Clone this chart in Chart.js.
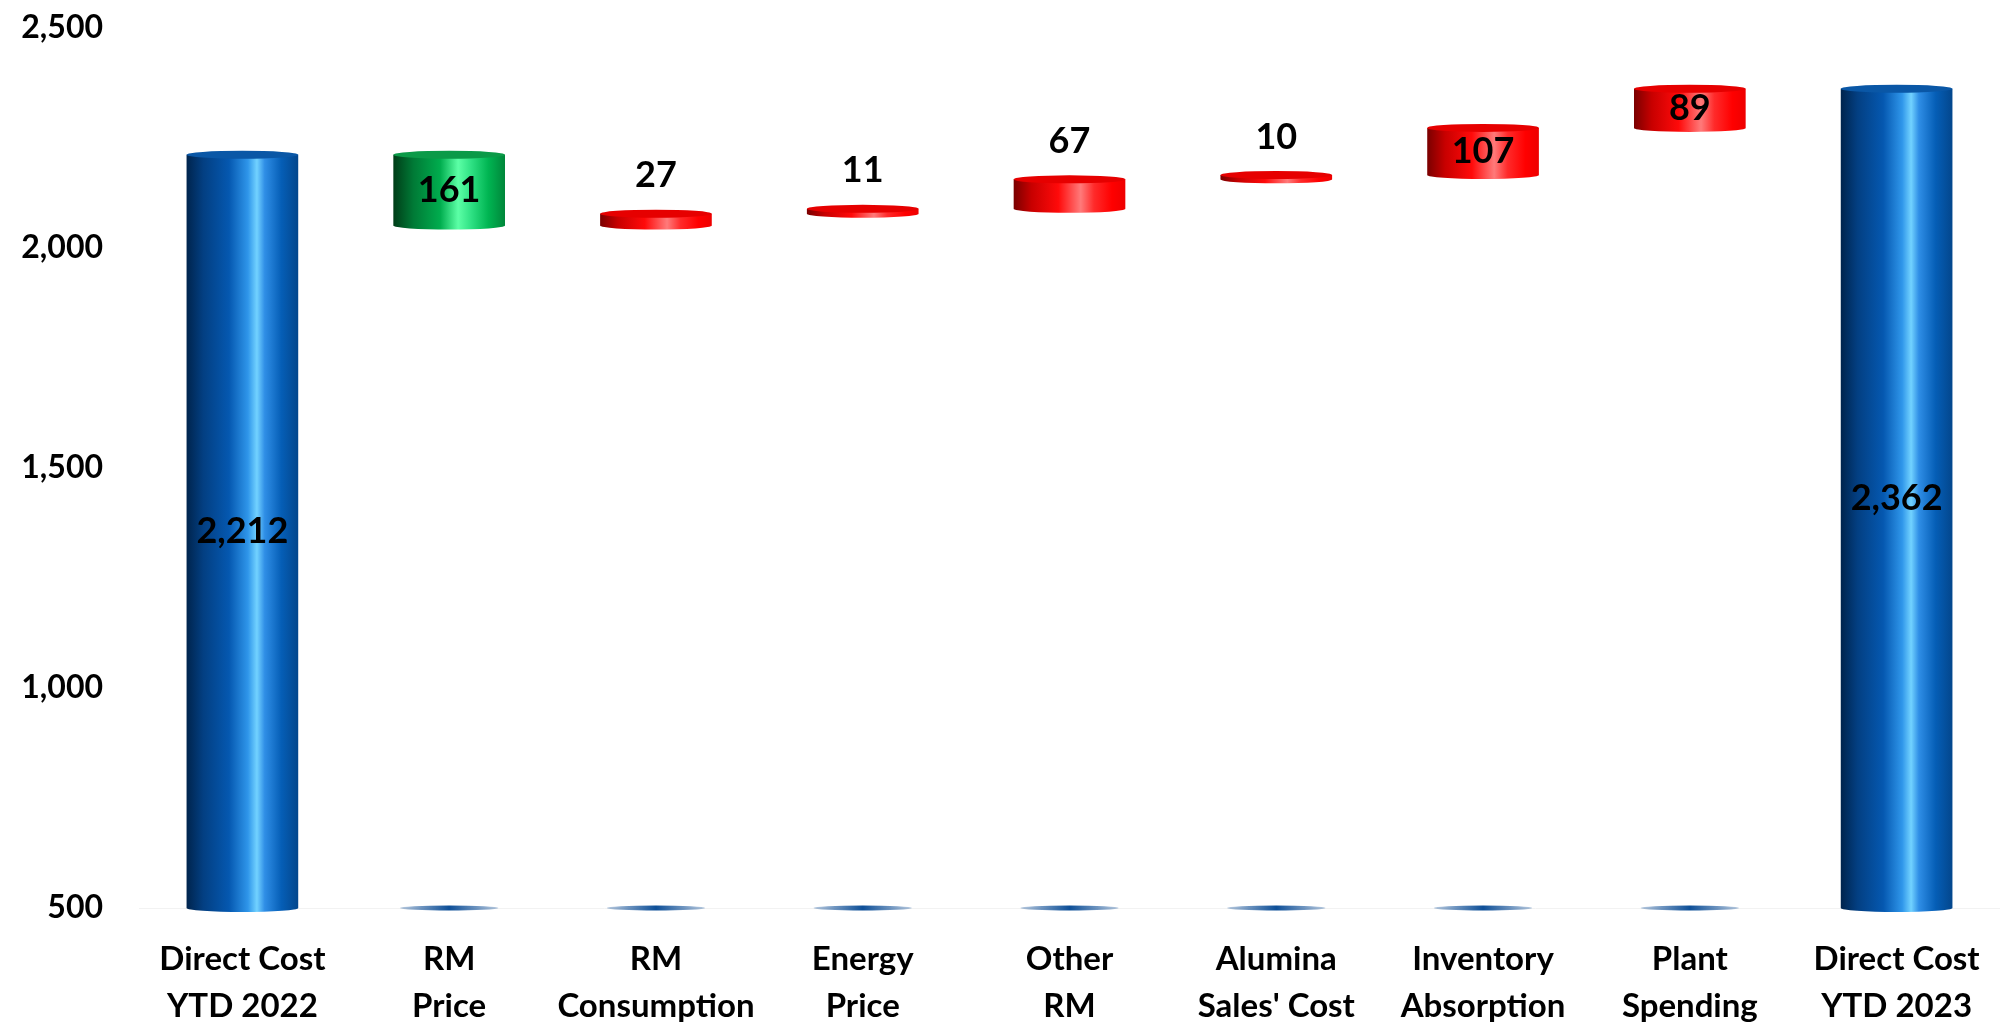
<!DOCTYPE html>
<html>
<head>
<meta charset="utf-8">
<script src="https://cdn.jsdelivr.net/npm/chart.js@4"></script>
<style>
  html, body { margin: 0; padding: 0; background: #ffffff; }
  #wrap { width: 2000px; height: 1023px; }
</style>
</head>
<body>
<div id="wrap"><canvas id="bridge" width="2000" height="1023"></canvas></div>
<script>
// Direct cost bridge, YTD 2022 -> YTD 2023
const categories = [
    ['Direct Cost', 'YTD 2022'],
    ['RM', 'Price'],
    ['RM', 'Consumption'],
    ['Energy', 'Price'],
    ['Other', 'RM'],
    ['Alumina', "Sales' Cost"],
    ['Inventory', 'Absorption'],
    ['Plant', 'Spending'],
    ['Direct Cost', 'YTD 2023']
];
const startTotal = 2212;
const endTotal = 2362;
const changes = [-161, 27, 11, 67, 10, 107, 89];
const axisMin = 500;
const axisMax = 2500;
const axisStep = 500;

const FONT = 'Lato, "Noto Sans", sans-serif';

// Build floating [low, high] ranges for the waterfall
const ranges = [];
const kinds = [];
const labels = [];
ranges.push([axisMin, startTotal]);
kinds.push('total');
labels.push(startTotal.toLocaleString('en-US'));
let running = startTotal;
changes.forEach(c => {
    const next = running + c;
    ranges.push([Math.min(running, next), Math.max(running, next)]);
    kinds.push(c < 0 ? 'down' : 'up');
    labels.push(Math.abs(c).toString());
    running = next;
});
ranges.push([axisMin, endTotal]);
kinds.push('total');
labels.push(endTotal.toLocaleString('en-US'));

const palettes = {
    total: {
        stops: [[0, '#00244d'], [0.15, '#033f82'], [0.38, '#0558b0'], [0.55, '#2f96ea'], [0.63, '#72d2ff'], [0.7, '#2f8ee6'], [0.85, '#055eb6'], [1, '#03468c']],
        cap: '#0a57a6'
    },
    down: {
        stops: [[0, '#003d18'], [0.18, '#007a36'], [0.42, '#00ad4e'], [0.58, '#5cffa6'], [0.7, '#2ee083'], [0.85, '#00b552'], [1, '#00863a']],
        cap: '#0b9a48'
    },
    up: {
        stops: [[0, '#7a0000'], [0.16, '#c80000'], [0.4, '#ff0a0a'], [0.6, '#ff7a7a'], [0.72, '#ff2a2a'], [0.88, '#ff0000'], [1, '#ee0000']],
        cap: '#e60000'
    }
};

// Paints each bar as a shaded cylinder plus its value label
const cylinderPlugin = {
    id: 'cylinders',
    afterDatasetsDraw(chart) {
        const ctx = chart.ctx;
        const meta = chart.getDatasetMeta(0);
        const yScale = chart.scales.y;
        const baseY = yScale.getPixelForValue(axisMin);
        meta.data.forEach((bar, i) => {
            const kind = kinds[i];
            const pal = palettes[kind];
            const w = bar.width;
            const left = bar.x - w / 2;
            const right = bar.x + w / 2;
            const top = Math.min(bar.y, bar.base);
            const bottom = Math.max(bar.y, bar.base);
            const ry = 4;

            ctx.save();
            // floor disc of the hidden base series
            if (kind !== 'total') {
                const g0 = ctx.createLinearGradient(left, 0, right, 0);
                g0.addColorStop(0, 'rgba(20,80,150,0.2)');
                g0.addColorStop(0.5, '#0d4f98');
                g0.addColorStop(1, 'rgba(20,80,150,0.2)');
                ctx.fillStyle = g0;
                ctx.beginPath();
                ctx.ellipse(bar.x, baseY, w * 0.44, 2.5, 0, 0, Math.PI * 2);
                ctx.fill();
            }

            const grad = ctx.createLinearGradient(left, 0, right, 0);
            pal.stops.forEach(s => grad.addColorStop(s[0], s[1]));
            ctx.fillStyle = grad;
            ctx.beginPath();
            ctx.moveTo(left, top);
            ctx.lineTo(left, bottom);
            ctx.ellipse(bar.x, bottom, w / 2, ry, 0, Math.PI, 0, true);
            ctx.lineTo(right, top);
            ctx.closePath();
            ctx.fill();

            // top cap
            ctx.fillStyle = pal.cap;
            ctx.beginPath();
            ctx.ellipse(bar.x, top, w / 2, ry, 0, 0, Math.PI * 2);
            ctx.fill();
            ctx.restore();

            // value label: inside the bar, or above it when the bar is thin
            ctx.save();
            ctx.font = 'bold 36px ' + FONT;
            ctx.fillStyle = '#000000';
            ctx.textAlign = 'center';
            ctx.textBaseline = 'middle';
            const h = bottom - top;
            const ly = h < 35 ? top - 38 : (top + bottom) / 2;
            ctx.fillText(labels[i], bar.x, ly);
            ctx.restore();
        });
    }
};

// Two-line category names under each bar
const categoryLabelPlugin = {
    id: 'categoryLabels',
    afterDraw(chart) {
        const ctx = chart.ctx;
        const xScale = chart.scales.x;
        const y0 = chart.chartArea.bottom;
        ctx.save();
        ctx.font = 'bold 33px ' + FONT;
        ctx.fillStyle = '#000000';
        ctx.textAlign = 'center';
        ctx.textBaseline = 'middle';
        categories.forEach((lines, i) => {
            const x = xScale.getPixelForValue(i);
            lines.forEach((line, j) => {
                ctx.fillText(line, x, y0 + 51 + j * 47);
            });
        });
        ctx.restore();
    }
};

new Chart(document.getElementById('bridge'), {
    type: 'bar',
    data: {
        labels: categories,
        datasets: [{
            data: ranges,
            backgroundColor: 'rgba(0,0,0,0)',
            borderWidth: 0,
            barPercentage: 0.54,
            categoryPercentage: 1.0
        }]
    },
    options: {
        responsive: false,
        animation: false,
        layout: { padding: { top: 28, left: 20, right: 0, bottom: 0 } },
        plugins: {
            legend: { display: false },
            tooltip: { enabled: false }
        },
        scales: {
            x: {
                grid: { display: false, drawTicks: false, tickLength: 0 },
                border: { display: true, color: '#f2f2f2', width: 1 },
                ticks: { display: false },
                afterFit(scale) { scale.height = 115; }
            },
            y: {
                min: axisMin,
                max: axisMax,
                grid: { display: false, drawTicks: false, tickLength: 0 },
                border: { display: false },
                ticks: {
                    stepSize: axisStep,
                    color: '#000000',
                    font: { family: FONT, size: 32, weight: 'bold' },
                    padding: 36,
                    callback: v => v.toLocaleString('en-US')
                },
                afterFit(scale) {
                    scale.width = 119;
                    // keep the tick padding from pushing the plot down
                    scale.paddingTop = 0;
                    scale.paddingBottom = 0;
                }
            }
        }
    },
    plugins: [cylinderPlugin, categoryLabelPlugin]
});
</script>
</body>
</html>
